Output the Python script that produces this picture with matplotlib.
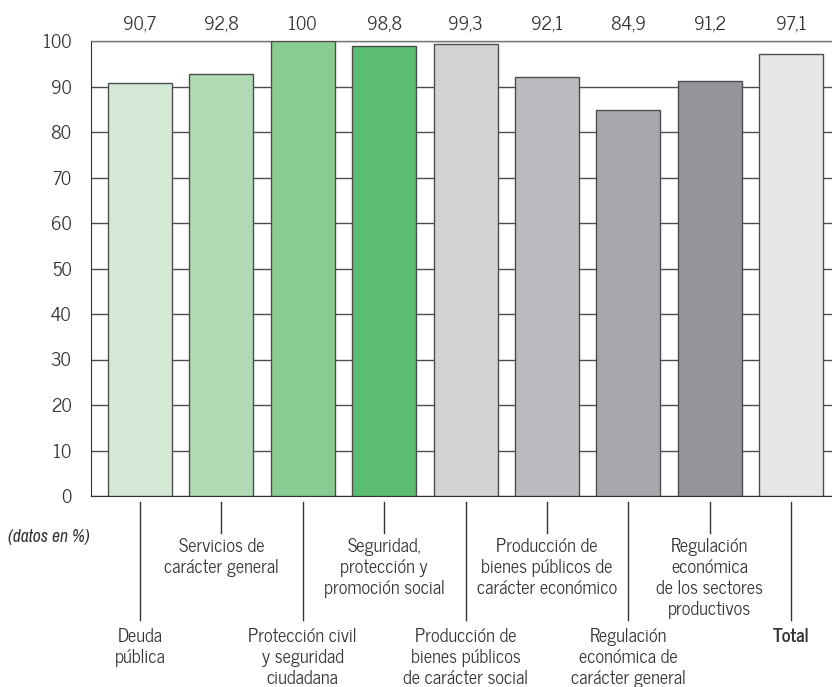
import matplotlib
matplotlib.use("Agg")
import matplotlib.pyplot as plt
from matplotlib import transforms
from matplotlib.lines import Line2D
from matplotlib import font_manager

categories = [
    "Deuda\npública",
    "Servicios de\ncarácter general",
    "Protección civil\ny seguridad\nciudadana",
    "Seguridad,\nprotección y\npromoción social",
    "Producción de\nbienes públicos\nde carácter social",
    "Producción de\nbienes públicos de\ncarácter económico",
    "Regulación\neconómica de\ncarácter general",
    "Regulación\neconómica\nde los sectores\nproductivos",
    "Total",
]
values = [90.7, 92.8, 100, 98.8, 99.3, 92.1, 84.9, 91.2, 97.1]
value_labels = ["90,7", "92,8", "100", "98,8", "99,3", "92,1", "84,9", "91,2", "97,1"]
colors = ["#d5e9d7", "#b0dab3", "#88cc91", "#5bbd72", "#d2d3d5",
          "#bbbcbf", "#a7a8ab", "#939598", "#e6e7e8"]
yticks = [0, 10, 20, 30, 40, 50, 60, 70, 80, 90, 100]

fl = font_manager.fontManager.ttflist
names = {f.name for f in fl}
prefs = ["News Cycle", "Roboto Condensed", "Archivo Narrow", "PT Sans Narrow",
         "Liberation Sans Narrow"]
chosen = [p for p in prefs if p in names]
fam = (chosen[:1] if chosen else []) + ["DejaVu Sans"]
plt.rcParams["font.family"] = fam

ital_prefs = ["Archivo Narrow", "Roboto Condensed", "PT Sans Narrow", "Fira Sans Condensed",
              "IBM Plex Sans Condensed", "Open Sans"]
ital_fam = None
for p in ital_prefs:
    if any(f.name == p and f.style == "italic" for f in fl):
        ital_fam = p
        break
ital_family = ([ital_fam] if ital_fam else []) + fam

W, H = 832, 687
fig = plt.figure(figsize=(W / 100, H / 100), dpi=100)
left, right, top, bottom = 91, 832, 41, 496
ax = fig.add_axes([left / W, (H - bottom) / H, (right - left) / W, (bottom - top) / H])

txtc = "#333333"
fs = 13.2

x = list(range(len(values)))
ax.set_axisbelow(True)
ax.bar(x, values, width=0.785, color=colors, edgecolor="#4d4d4d", linewidth=1.0, zorder=3)
ax.set_xlim(-0.6, 8.5)
ax.set_ylim(0, 100)
ax.set_yticks(yticks)
ax.set_yticklabels([str(t) for t in yticks], fontsize=fs, color=txtc)
ax.tick_params(axis="y", length=0, pad=14)
ax.set_xticks([])
ax.yaxis.grid(True, color="#4d4d4d", linewidth=1.0)
ax.spines["right"].set_visible(False)
ax.spines["top"].set_color("#777777")
ax.spines["top"].set_linewidth(1.0)
ax.spines["left"].set_color("#333333")
ax.spines["bottom"].set_color("#333333")

for xi, lab in zip(x, value_labels):
    ax.text(xi, 1.0 + 16 / (bottom - top), lab, transform=ax.get_xaxis_transform(),
            ha="center", va="center", fontsize=fs, color=txtc)

tr = transforms.blended_transform_factory(ax.transData, fig.transFigure)

def fy(py):
    return (H - py) / H

for i, (xi, cat) in enumerate(zip(x, categories)):
    short = (i % 2 == 1)
    y_end = 533 if short else 620
    ln = Line2D([xi, xi], [fy(502), fy(y_end)], transform=tr, color="#333333",
                linewidth=1.0, clip_on=False)
    fig.add_artist(ln)
    ytxt = 538 if short else 628
    ax.text(xi, fy(ytxt), cat, transform=tr, ha="center", va="top",
            fontsize=fs, color=txtc, linespacing=1.22,
            fontweight="bold" if cat == "Total" else "normal", clip_on=False)

fig.text(8 / W, fy(537), "(datos en %)", ha="left", va="center",
         fontsize=fs - 0.5 if ital_fam else fs, color=txtc, style="italic",
         family=ital_family)

fig.savefig("out.png", dpi=100)
